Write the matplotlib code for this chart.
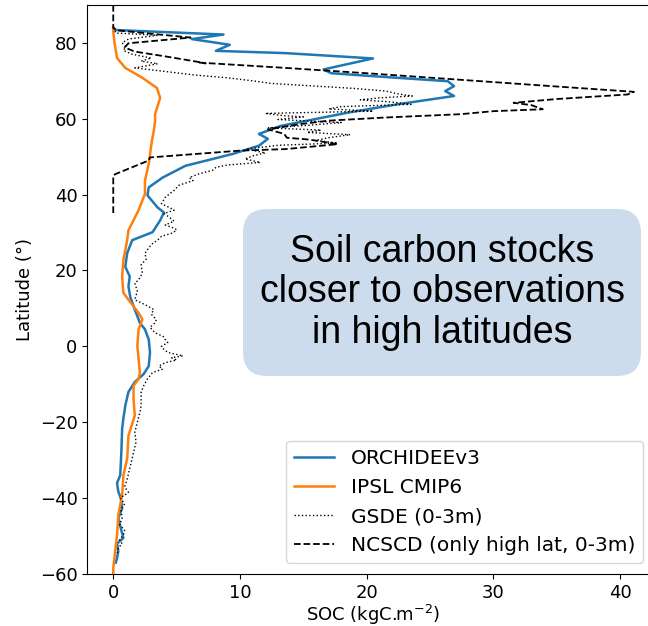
import numpy as np
import matplotlib.pyplot as plt
from matplotlib.patches import FancyBboxPatch
from matplotlib.transforms import IdentityTransform

# ORCHIDEEv3 (latitude, SOC kgC/m2)
orch_lat = [84, 83.4, 82.2, 81.0, 79.5, 77.9, 77.3, 75.9, 73.0, 72.0, 71.0, 69.9, 68.6, 67.3,
            66.0, 63.8, 61.6, 58.1, 56.0, 54.7, 52.9, 50.7, 47.6, 44.5, 41.9, 39.8, 36.6, 35.3,
            33.2, 30.1, 28.0, 24.6, 21.0, 18.4, 15.8, 12.9, 9.7, 6.2, 4.5, 1.8, -1.6, -5.2,
            -7.3, -9.4, -12.0, -15.6, -19.0, -21.7, -27.0, -34.0, -36.0, -38.3, -40.0, -42.7,
            -45.3, -48.0, -50.5, -52.0, -54.0, -55.8, -57.0]
orch_soc = [0.0, 0.1, 8.7, 6.2, 9.2, 8.1, 13.6, 20.5, 16.6, 17.2, 21.5, 26.4, 26.9, 26.2,
            26.9, 22.4, 18.5, 13.2, 11.5, 12.2, 11.5, 9.4, 5.7, 3.9, 2.8, 2.7, 3.5, 4.0,
            3.7, 3.1, 1.5, 1.1, 0.95, 1.3, 1.2, 1.35, 1.7, 2.1, 2.5, 2.8, 2.9, 2.8,
            2.4, 1.7, 1.2, 0.95, 0.8, 0.7, 0.65, 0.55, 0.3, 0.4, 0.6, 0.7,
            0.4, 0.6, 0.8, 0.3, 0.4, 0.3, 0.2]

# IPSL CMIP6
ipsl_lat = [84, 83, 80, 76, 73.4, 70.8, 68.1, 65.5, 61.2, 59.4, 56.8, 54.2, 48.1, 43.7, 40.2,
            35.9, 30.6, 28, 22.8, 18.4, 14.1, 12.3, 8.8, 7.1, 4.5, 0.1, -3.4, -6.9, -8.6,
            -10.4, -13.9, -18.2, -23.5, -29.6, -34, -39.2, -44.4, -49.7, -54, -58.4, -60]
ipsl_soc = [0, 0, 0.1, 0.3, 0.95, 2.3, 3.45, 3.7, 3.3, 3.3, 3.2, 3.05, 2.8, 2.5, 2.5,
            2.0, 1.2, 1.1, 0.8, 0.7, 0.8, 1.2, 2.0, 2.3, 2.0, 1.9, 2.0, 2.1, 2.0,
            1.6, 1.6, 1.7, 1.2, 1.1, 0.8, 0.7, 0.4, 0.3, 0.15, 0.0, 0.0]

# GSDE (0-3m)
gsde_lat = [84, 82.6, 82.0, 81.0, 80.0, 79.0, 78.0, 77.0, 76.0, 75.2, 74.5, 73.4, 72.5, 71.5,
            70.8, 70.0, 69.3, 68.6, 68.0, 67.3, 66.6, 66.0, 65.5, 65.0, 64.4, 63.8, 63.2,
            62.6, 62.0, 61.4, 60.8, 60.5, 59.8, 59.0, 58.3, 57.6, 57.0, 56.4, 55.8, 55.0,
            54.3, 53.6, 53.0, 52.0, 51.0, 50.2, 49.4, 48.5, 47.8, 47.2, 46.5, 45.5, 44.5,
            43.7, 42.5, 41.1, 39.3, 37.6, 36.5, 35.9, 35.0, 34.1, 33.0, 32.0, 31.0, 30.6,
            29.8, 29.0, 28.0, 27.1, 26.0, 24.5, 23.0, 21.5, 19.3, 17.5, 16.7, 14.5, 12.3,
            11.0, 9.7, 8.5, 7.0, 6.2, 5.0, 3.6, 2.5, 1.8, 1.0, 0.0, -0.8, -1.6, -2.5, -3.0,
            -3.6, -4.3, -5.2, -6.0, -6.9, -8.6, -10.4, -12.1, -15.6, -17.4, -20.0, -22.6,
            -25.2, -28.0, -32.2, -35.0, -37.0, -38.5, -40.0, -41.5, -43.0, -45.3, -47.0,
            -48.5, -49.7, -51.0, -52.0, -53.1, -54.8]
gsde_soc = [0.0, 0.2, 3.5, 1.2, 0.7, 1.0, 0.8, 1.5, 3.0, 2.2, 3.5, 1.7, 4.0, 6.5,
            9.0, 11.0, 12.5, 16.0, 19.0, 21.5, 22.4, 23.6, 21.0, 19.5, 22.0, 23.5, 18.0,
            17.0, 20.5, 12.0, 13.5, 15.0, 13.0, 18.0, 15.5, 12.2, 16.4, 15.3, 18.7, 17.0,
            16.0, 17.7, 13.0, 10.5, 12.0, 11.0, 10.4, 11.6, 9.0, 8.1, 7.9, 6.8, 6.0,
            6.3, 5.2, 4.8, 4.1, 3.8, 4.5, 4.8, 4.0, 4.4, 4.8, 4.1, 4.9, 5.0,
            4.6, 3.8, 3.5, 3.1, 2.8, 2.5, 2.6, 2.2, 2.3, 2.0, 1.7, 1.9, 1.7,
            2.5, 3.2, 3.0, 3.4, 3.3, 2.9, 3.3, 4.0, 4.1, 4.3, 3.8, 4.0, 4.3, 5.5, 4.6,
            5.0, 4.1, 3.6, 3.9, 3.1, 2.7, 2.4, 2.2, 2.2, 2.1, 1.9, 1.7,
            1.8, 1.6, 1.3, 1.1, 0.9, 1.2, 0.55, 0.9, 0.6, 0.7, 0.5,
            0.9, 0.8, 0.5, 0.7, 0.4, 0.3]

# NCSCD (only high lat, 0-3m)
ncscd_lat = [90, 84, 83.3, 81.4, 79.9, 78.8, 77.7, 76.5, 75.1, 74.6, 74.8, 73.4, 72.0, 69.9,
             68.5, 67.1, 66.4, 65.2, 64.2, 63.6, 62.5, 62.0, 61.2, 60.3, 59.5, 58.6, 57.2,
             56.0, 55.0, 54.5, 53.3, 52.0, 51.6, 49.8, 49.0, 45.4, 45.0, 34.5]
ncscd_soc = [0.0, 0.0, 0.3, 6.1, 1.2, 0.9, 1.7, 4.0, 6.5, 7.3, 6.8, 13.6, 20.0, 29.0,
             35.0, 41.1, 40.6, 35.0, 31.6, 33.0, 33.9, 30.0, 27.4, 21.3, 17.0, 14.8, 12.2,
             13.5, 13.7, 15.5, 17.7, 13.6, 10.0, 2.9, 2.8, 0.16, 0.0, 0.0]

fig = plt.figure(figsize=(6.48, 6.26), dpi=100)
ax = fig.add_axes([0.1347, 0.0831, 0.8818, 0.909])

ax.plot(orch_soc, orch_lat, color='#1f77b4', lw=1.8, label='ORCHIDEEv3')
ax.plot(ipsl_soc, ipsl_lat, color='#ff7f0e', lw=1.8, label='IPSL CMIP6')
ax.plot(gsde_soc, gsde_lat, color='black', lw=1, ls=':', label='GSDE (0-3m)')
ax.plot(ncscd_soc, ncscd_lat, color='black', lw=1.3, ls='--', label='NCSCD (only high lat, 0-3m)')

ax.set_xlim(-2.05, 43.05)
ax.set_ylim(-60, 90)
ax.set_xticks([0, 10, 20, 30, 40])
ax.set_yticks([-60, -40, -20, 0, 20, 40, 60, 80])
ax.tick_params(labelsize=13)
ax.set_xlabel('SOC (kgC.m$^{-2}$)', fontsize=13, labelpad=1)
ax.set_ylabel('Latitude (°)', fontsize=13)

ax.legend(loc='lower right', bbox_to_anchor=(0.9725, 0.019), fontsize=14.5,
          borderaxespad=0)

# annotation box (pixel coordinates)
box = FancyBboxPatch((243, 250), 398, 167,
                     boxstyle='round,pad=0,rounding_size=24',
                     transform=IdentityTransform(),
                     facecolor='#cddcec', edgecolor='none')
fig.add_artist(box)
fig.text(442 / 648, 1 - 292.5 / 626,
         'Soil carbon stocks\ncloser to observations\nin high latitudes',
         ha='center', va='center', multialignment='center',
         fontsize=27, family='Liberation Sans', linespacing=1.15)

fig.savefig('out.png', dpi=100)
